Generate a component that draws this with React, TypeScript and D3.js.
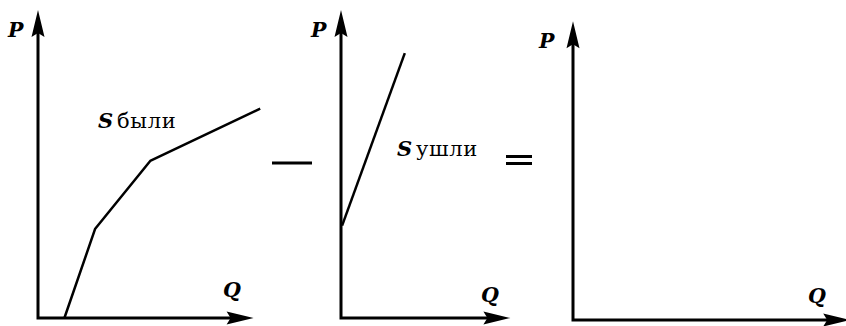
import React from 'react'
import { scaleLinear, line } from 'd3'

// supply curves, in axis units (q along Q, p along P)
const sBeforeQ = [1.2, 2.6, 5.1, 10.1]
const sBeforeP = [0, 2.9, 5.1, 6.8]
const sLeftQ = [0.05, 2.9]
const sLeftP = [3.0, 8.6]

const curveLabels = ['были', 'ушли']
const axisLabels = ['P', 'Q']

// where each little chart sits on the page
const panels = [
  { x0: 38, y0: 318, qMax: 9.8, pMax: 10, pLab: [8, 37], qLab: [223, 297] },
  { x0: 341, y0: 318, qMax: 7.7, pMax: 10, pLab: [311, 37], qLab: [481, 302] },
  { x0: 573, y0: 320, qMax: 12.6, pMax: 9.7, pLab: [539, 48], qLab: [808, 303] },
]

const UNIT_X = 22
const UNIT_Y = 30.8
const serif = '"DejaVu Serif", "Liberation Serif", serif'

const makeScales = (p) => {
  const x = scaleLinear().domain([0, 10]).range([p.x0, p.x0 + 10 * UNIT_X])
  const y = scaleLinear().domain([0, 10]).range([p.y0, p.y0 - 10 * UNIT_Y])
  return { x, y }
}

const arrowUp = (tx, ty) =>
  `M${tx},${ty} L${tx - 6.5},${ty + 27} L${tx},${ty + 23} L${tx + 6.5},${ty + 27} Z`
const arrowRight = (tx, ty) =>
  `M${tx},${ty} L${tx - 27},${ty - 6.5} L${tx - 23},${ty} L${tx - 27},${ty + 6.5} Z`

function Axes({ p }) {
  const { x, y } = makeScales(p)
  const tipX = x(p.qMax)
  const tipY = y(p.pMax)
  return (
    <g>
      <path
        d={`M${p.x0},${tipY + 20} L${p.x0},${p.y0} L${tipX - 20},${p.y0}`}
        fill="none"
        stroke="#000"
        strokeWidth={3}
        strokeLinejoin="miter"
      />
      <path d={arrowUp(p.x0, tipY)} fill="#000" />
      <path d={arrowRight(tipX, p.y0)} fill="#000" />
      <text x={p.pLab[0]} y={p.pLab[1]} fontFamily={serif} fontStyle="italic" fontWeight="bold" fontSize={20.5}>
        {axisLabels[0]}
      </text>
      <text x={p.qLab[0]} y={p.qLab[1]} fontFamily={serif} fontStyle="italic" fontWeight="bold" fontSize={20.5}>
        {axisLabels[1]}
      </text>
    </g>
  )
}

export default function App() {
  const s1 = makeScales(panels[0])
  const s2 = makeScales(panels[1])

  const path1 = line<number>()
    .x((q) => s1.x(q))
    .y((_, i) => s1.y(sBeforeP[i]))(sBeforeQ)
  const path2 = line<number>()
    .x((q) => s2.x(q))
    .y((_, i) => s2.y(sLeftP[i]))(sLeftQ)

  return (
    <div style={{ position: 'absolute', left: 0, top: 0 }}>
      <svg width={846} height={326} style={{ display: 'block', background: '#fff' }}>
        {panels.map((p, i) => (
          <Axes key={i} p={p} />
        ))}
        <path d={path1 ?? ''} fill="none" stroke="#000" strokeWidth={2.5} strokeLinejoin="round" />
        <path d={path2 ?? ''} fill="none" stroke="#000" strokeWidth={2.5} strokeLinejoin="round" />

        <text x={98} y={128} fontFamily={serif} fontSize={21} letterSpacing={0.7}>
          <tspan fontStyle="italic" fontWeight="bold">S</tspan>
          <tspan dx={3}>{curveLabels[0]}</tspan>
        </text>
        <text x={397} y={156} fontFamily={serif} fontSize={21} letterSpacing={0.7}>
          <tspan fontStyle="italic" fontWeight="bold">S</tspan>
          <tspan dx={3}>{curveLabels[1]}</tspan>
        </text>

        {/* minus and equals between the charts */}
        <line x1={272} x2={312} y1={163} y2={163} stroke="#000" strokeWidth={3} />
        <line x1={506} x2={532} y1={156.5} y2={156.5} stroke="#000" strokeWidth={3} />
        <line x1={506} x2={532} y1={163.5} y2={163.5} stroke="#000" strokeWidth={3} />
      </svg>
    </div>
  )
}
